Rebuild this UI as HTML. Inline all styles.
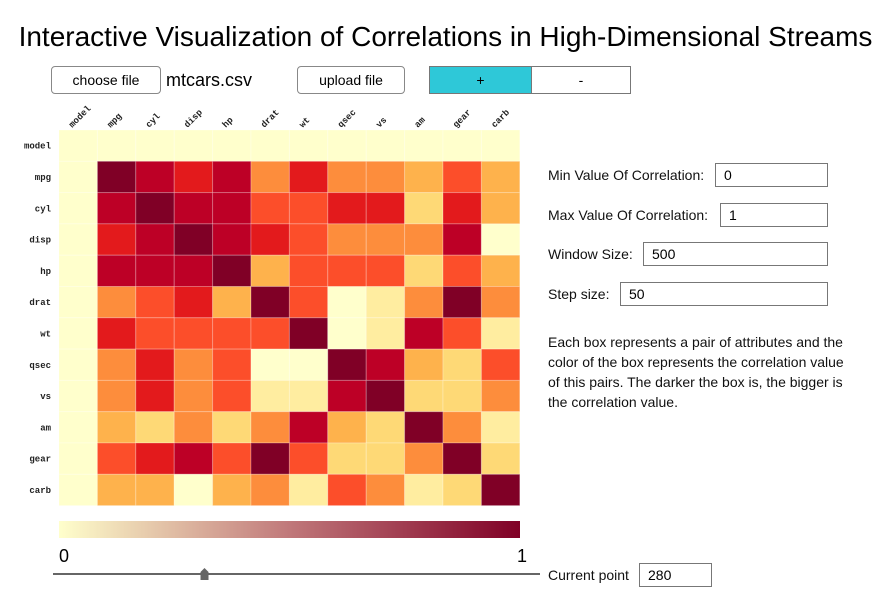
<!DOCTYPE html>
<html><head><meta charset="utf-8"><style>
body{margin:0;width:891px;height:597px;background:#fff;font-family:"Liberation Sans",sans-serif;position:relative;overflow:hidden}
.abs{position:absolute}
.btn{position:absolute;border:1px solid #888;border-radius:4px;background:#fff;font-size:14px;text-align:center;box-sizing:border-box;line-height:26px}
.lbl{position:absolute;font-size:14px;color:#111}
.inp{position:absolute;border:1px solid #777;box-sizing:border-box;font-size:14px;padding-left:8px;line-height:22px;height:24px}
</style></head><body>
<div class="abs" style="left:0;width:891px;top:21px;text-align:center;font-size:28px;color:#000;white-space:nowrap">Interactive Visualization of Correlations in High-Dimensional Streams</div>
<div class="btn" style="left:51px;top:66px;width:110px;height:28px">choose file</div>
<div class="abs" style="left:166px;top:70px;font-size:18px">mtcars.csv</div>
<div class="btn" style="left:297px;top:66px;width:108px;height:28px">upload file</div>
<div class="abs" style="left:429px;top:66px;width:202px;height:28px;border:1px solid #777;box-sizing:border-box;display:flex">
<div style="width:101px;background:#2ec8d8;border-right:1px solid #777;text-align:center;line-height:26px;font-size:14px">+</div>
<div style="flex:1;text-align:center;line-height:26px;font-size:14px">-</div></div>
<svg id="hm" class="abs" style="left:0;top:0" width="891" height="597"></svg>
<div class="lbl" style="left:548px;top:167px">Min Value Of Correlation:</div>
<div class="inp" style="left:715px;top:163px;width:113px">0</div>
<div class="lbl" style="left:548px;top:207px">Max Value Of Correlation:</div>
<div class="inp" style="left:720px;top:203px;width:108px">1</div>
<div class="lbl" style="left:548px;top:246px">Window Size:</div>
<div class="inp" style="left:643px;top:242px;width:185px">500</div>
<div class="lbl" style="left:548px;top:286px">Step size:</div>
<div class="inp" style="left:620px;top:282px;width:208px">50</div>
<div class="abs" style="left:548px;top:332px;width:305px;font-size:14px;line-height:20px;color:#111">Each box represents a pair of attributes and the color of the box represents the correlation value of this pairs. The darker the box is, the bigger is the correlation value.</div>
<div class="lbl" style="left:548px;top:567px">Current point</div>
<div class="inp" style="left:639px;top:563px;width:73px">280</div>
<script>
const labels=["model","mpg","cyl","disp","hp","drat","wt","qsec","vs","am","gear","carb"];
const L=[0.02,0.13,0.25,0.38,0.5,0.62,0.75,0.87,1];
const levels=[
[8,7,6,7,4,6,4,4,3,5,3],
[7,8,7,7,5,5,6,6,2,6,3],
[6,7,8,7,6,5,4,4,4,7,0],
[7,7,7,8,3,5,5,5,2,5,3],
[4,5,6,3,8,5,0,1,4,8,4],
[6,5,5,5,5,8,0,1,7,5,1],
[4,6,4,5,0,0,8,7,3,2,5],
[4,6,4,5,1,1,7,8,2,2,4],
[3,2,4,2,4,7,3,2,8,4,1],
[5,6,7,5,8,5,2,2,4,8,2],
[3,3,0,3,4,1,5,4,1,2,8]];
const values=levels.map(r=>r.map(l=>L[l]));
const sliderValue=280, sliderMax=900;
const pal=["#ffffcc","#ffeda0","#fed976","#feb24c","#fd8d3c","#fc4e2a","#e31a1c","#bd0026","#800026"];
const NS="http://www.w3.org/2000/svg";
const svg=document.getElementById('hm');
const x0=59,y0=130,cw=38.4,ch=31.3;
function mk(t,a){const e=document.createElementNS(NS,t);for(const k in a)e.setAttribute(k,a[k]);svg.appendChild(e);return e;}
function col(v){if(v==null)return pal[0];return pal[Math.max(0,Math.min(8,Math.round(v*8)))];}
for(let i=0;i<12;i++)for(let j=0;j<12;j++){
 const v=(i==0||j==0)?null:values[i-1][j-1];
 const r=mk('rect',{x:x0+j*cw,y:y0+i*ch,width:cw,height:ch,fill:col(v),stroke:'rgba(255,255,255,0.25)','stroke-width':1});
 
 
}
labels.forEach((l,i)=>{
 const t=mk('text',{x:51,y:y0+i*ch+ch/2+3,'text-anchor':'end','font-family':'Liberation Mono,monospace','font-size':9,'font-weight':'bold',fill:'#222'});
 t.textContent=l;
 
 
 const cx=x0+i*cw+cw/2-6, cy=128;
 const c=mk('text',{x:cx,y:cy,'text-anchor':'start','font-family':'Liberation Mono,monospace','font-size':9,'font-weight':'bold',fill:'#222',transform:`rotate(-45 ${cx} ${cy})`});
 c.textContent=l;
 
 
});
const defs=mk('defs',{});
const g=document.createElementNS(NS,'linearGradient');g.setAttribute('id','gr');defs.appendChild(g);
[["0%","#ffffcc"],["50%","#c0787a"],["100%","#800026"]].forEach(s=>{const st=document.createElementNS(NS,'stop');st.setAttribute('offset',s[0]);st.setAttribute('stop-color',s[1]);g.appendChild(st);});
const cb=mk('rect',{x:59,y:521,width:461,height:17,fill:'url(#gr)'});


const t0=mk('text',{x:59,y:562,'font-size':18,'font-family':'Liberation Sans,sans-serif'});t0.textContent='0';


const t1=mk('text',{x:527,y:562,'font-size':18,'text-anchor':'end','font-family':'Liberation Sans,sans-serif'});t1.textContent='1';


const sl=mk('line',{x1:53,y1:574,x2:540,y2:574,stroke:'#666','stroke-width':2});


const sx=53+(540-53)*sliderValue/sliderMax;
const th=mk('path',{d:`M${sx-4},580 L${sx-4},572 L${sx},568 L${sx+4},572 L${sx+4},580 Z`,fill:'#666'});


</script>
</body></html>
